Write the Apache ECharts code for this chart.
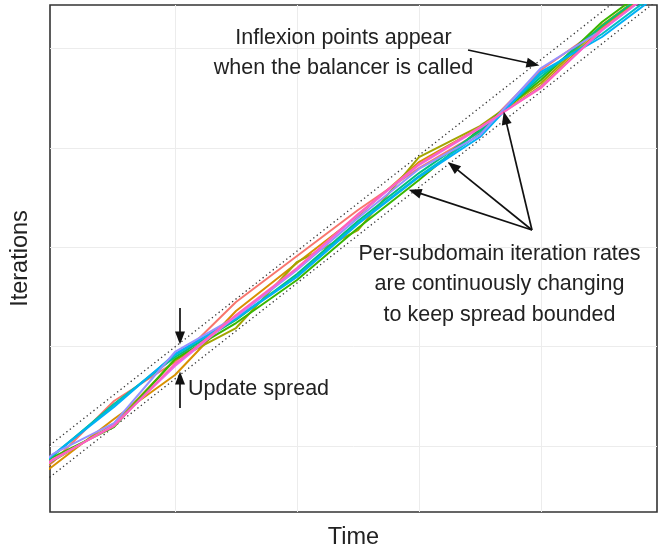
<!DOCTYPE html>
<html>
<head>
<meta charset="utf-8">
<title>Iterations vs time</title>
<script src="https://cdn.jsdelivr.net/npm/echarts@6.0.0/dist/echarts.min.js"></script>
<style>
    html, body { margin: 0; padding: 0; background: #fff; }
    #chart { width: 660px; height: 548px; }
</style>
</head>
<body>
<div id="chart"></div>
<script>
// time steps (balancer is called on every whole step)
var times = [-1.5, -1, -0.5, 0, 0.5, 1, 1.5, 2, 2.5, 3, 3.5, 4];

// iterations done by each subdomain at every time step
var sd01 = [-0.604, -0.161, 0.453, 0.845, 1.449, 1.911, 2.374, 2.797, 3.159, 3.783, 4.215, 4.678];
var sd02 = [-0.664, -0.201, 0.272, 0.714, 1.358, 1.841, 2.314, 2.857, 3.204, 3.622, 4.205, 4.668];
var sd03 = [-0.624, -0.151, 0.221, 0.865, 1.187, 1.851, 2.173, 2.907, 3.219, 3.652, 4.235, 4.688];
var sd04 = [-0.594, -0.111, 0.191, 0.875, 1.237, 1.670, 2.193, 2.676, 3.189, 3.682, 4.266, 4.718];
var sd05 = [-0.594, -0.101, 0.423, 0.895, 1.268, 1.730, 2.264, 2.746, 3.169, 3.712, 4.225, 4.688];
var sd06 = [-0.584, -0.091, 0.412, 0.915, 1.288, 1.710, 2.243, 2.716, 3.139, 3.742, 4.145, 4.608];
var sd07 = [-0.584, -0.091, 0.392, 0.926, 1.278, 1.700, 2.233, 2.706, 3.109, 3.763, 4.115, 4.577];
var sd08 = [-0.584, -0.080, 0.231, 0.946, 1.298, 1.771, 2.294, 2.787, 3.129, 3.803, 4.185, 4.648];
var sd09 = [-0.614, -0.141, 0.211, 0.805, 1.308, 1.781, 2.324, 2.827, 3.199, 3.612, 4.180, 4.658];
var sd10 = [-0.604, -0.131, 0.201, 0.825, 1.318, 1.791, 2.334, 2.837, 3.209, 3.602, 4.190, 4.658];

var subdomains = [sd01, sd02, sd03, sd04, sd05, sd06, sd07, sd08, sd09, sd10];
var subdomainNames = ['1', '2', '3', '4', '5', '6', '7', '8', '9', '10'];

// spread bounds (dotted)
var boundTimes = [-1.5, 4];
var upperBound = [-0.448, 4.851];
var lowerBound = [-0.770, 4.529];

// grid lines
var timeBreaks = [0, 1, 2, 3];
var iterBreaks = [0, 1, 2, 3, 4];

var palette = ['#F8766D', '#D89000', '#A3A500', '#39B600', '#00BF7D',
               '#00BFC4', '#00B0F6', '#9590FF', '#E76BF3', '#FF62BC'];

// annotation arrows [from, to] in data units
var arrows = [
    [[2.402, 3.984], [2.935, 3.843]],
    [[2.926, 2.173], [1.966, 2.559]],
    [[2.926, 2.173], [2.278, 2.816]],
    [[2.926, 2.173], [2.707, 3.301]],
    [[0.041, 1.388], [0.041, 1.087]],
    [[0.041, 0.382], [0.041, 0.684]]
];

var FONT = '"Liberation Sans", Arial, Helvetica, sans-serif';
var TEXT_COLOR = '#222';

var pairs = function(xs, ys){
    var out = [];
    for(var i=0; i<xs.length; i++){
        out.push([xs[i], ys[i]]);
    }
    return out;
};

var series = [];

//grid lines, kept under everything
var gridLines = [];
for(var i=0; i<timeBreaks.length; i++){
    gridLines.push({xAxis: timeBreaks[i]});
}
for(var j=0; j<iterBreaks.length; j++){
    gridLines.push({yAxis: iterBreaks[j]});
}
series.push({
    type: 'line',
    data: [],
    z: 0,
    silent: true,
    markLine: {
        z: 0,
        silent: true,
        symbol: 'none',
        label: {show: false},
        animation: false,
        lineStyle: {color: '#ececec', width: 1, type: 'solid'},
        data: gridLines
    }
});

//bounds
var bounds = [upperBound, lowerBound];
for(var b=0; b<bounds.length; b++){
    series.push({
        type: 'line',
        z: 2,
        silent: true,
        showSymbol: false,
        data: pairs(boundTimes, bounds[b]),
        lineStyle: {color: '#333', width: 1.3, type: [1.3, 3]}
    });
}

//subdomains
for(var k=0; k<subdomains.length; k++){
    series.push({
        name: subdomainNames[k],
        type: 'line',
        z: 3,
        showSymbol: false,
        data: pairs(times, subdomains[k]),
        lineStyle: {color: palette[k], width: 2},
        itemStyle: {color: palette[k]}
    });
}

//arrows
var arrowData = [];
for(var a=0; a<arrows.length; a++){
    arrowData.push([{coord: arrows[a][0]}, {coord: arrows[a][1]}]);
}
series.push({
    type: 'line',
    data: [],
    z: 8,
    silent: true,
    markLine: {
        z: 8,
        silent: true,
        symbol: ['none', 'triangle'],
        symbolSize: [10, 13],
        label: {show: false},
        animation: false,
        lineStyle: {color: '#111', width: 1.7, type: 'solid'},
        itemStyle: {color: '#111'},
        data: arrowData
    }
});

var chart = echarts.init(document.getElementById('chart'));

chart.setOption({
    animation: false,
    backgroundColor: '#fff',
    textStyle: {fontFamily: FONT},
    grid: {
        left: 50, top: 5, right: 3, bottom: 36,
        outerBoundsMode: 'none',
        containLabel: false,
        show: true,
        borderColor: '#333',
        borderWidth: 1.6,
        backgroundColor: 'transparent'
    },
    xAxis: {
        type: 'value',
        min: -1.0246,
        max: 3.951,
        name: 'Time',
        nameLocation: 'middle',
        nameGap: 14,
        nameTextStyle: {fontSize: 23.5, color: TEXT_COLOR, fontFamily: FONT},
        axisLine: {show: false},
        axisTick: {show: false},
        axisLabel: {show: false},
        splitLine: {show: false}
    },
    yAxis: {
        type: 'value',
        min: -0.664,
        max: 4.437,
        name: 'Iterations',
        nameLocation: 'middle',
        nameGap: 17,
        nameTextStyle: {fontSize: 23.5, color: TEXT_COLOR, fontFamily: FONT},
        axisLine: {show: false},
        axisTick: {show: false},
        axisLabel: {show: false},
        splitLine: {show: false}
    },
    graphic: [
        {
            type: 'text', z: 10,
            style: {
                x: 343.5, y: 53,
                text: 'Inflexion points appear\nwhen the balancer is called',
                font: '21.5px ' + FONT, fill: TEXT_COLOR,
                align: 'center', verticalAlign: 'middle', lineHeight: 30
            }
        },
        {
            type: 'text', z: 10,
            style: {
                x: 499.5, y: 284.5,
                text: 'Per-subdomain iteration rates\nare continuously changing\nto keep spread bounded',
                font: '21.5px ' + FONT, fill: TEXT_COLOR,
                align: 'center', verticalAlign: 'middle', lineHeight: 30.5
            }
        },
        {
            type: 'text', z: 10,
            style: {
                x: 188, y: 389,
                text: 'Update spread',
                font: '21.5px ' + FONT, fill: TEXT_COLOR,
                align: 'left', verticalAlign: 'middle'
            }
        }
    ],
    series: series
});
</script>
</body>
</html>
